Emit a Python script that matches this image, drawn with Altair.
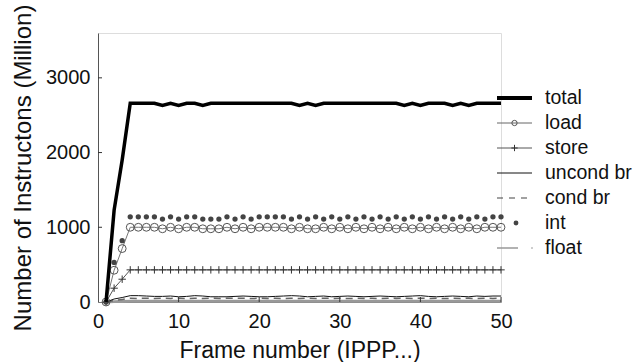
import altair as alt
import pandas as pd

# Instruction counts per frame, in millions
frames = list(range(1, 51))

total = [0, 1230, 1900, 2660, 2660, 2660, 2660, 2630, 2660, 2630,
         2660, 2660, 2630, 2660, 2660, 2660, 2660, 2660, 2660, 2660,
         2660, 2660, 2660, 2660, 2630, 2660, 2630, 2660, 2660, 2660,
         2660, 2660, 2660, 2660, 2660, 2660, 2660, 2630, 2660, 2630,
         2660, 2660, 2660, 2630, 2660, 2630, 2660, 2660, 2660, 2660]

load = [0, 425, 715, 1000, 1000, 1000, 1000, 980, 1000, 980,
        1000, 1000, 980, 980, 980, 1000, 980, 1000, 980, 1000,
        1000, 1000, 1000, 980, 1000, 980, 980, 1000, 980, 1000,
        980, 1000, 980, 1000, 980, 1000, 980, 1000, 980, 1000,
        980, 1000, 980, 1000, 980, 1000, 980, 1000, 1000, 1000]

store = [0, 185, 305, 430, 430, 430, 430, 430, 430, 430,
         430, 430, 430, 430, 430, 430, 430, 430, 430, 430,
         430, 430, 430, 430, 430, 430, 430, 430, 430, 430,
         430, 430, 430, 430, 430, 430, 430, 430, 430, 430,
         430, 430, 430, 430, 430, 430, 430, 430, 430, 430]

uncond_br = [0, 40, 60, 85, 85, 80, 75, 75, 80, 70,
             75, 85, 80, 70, 70, 70, 75, 80, 75, 70,
             70, 75, 80, 85, 80, 70, 75, 80, 70, 75,
             80, 75, 70, 75, 80, 75, 70, 75, 80, 85,
             75, 70, 75, 80, 75, 70, 80, 75, 80, 80]

cond_br = [0, 20, 35, 50, 48, 50, 46, 50, 48, 50,
           46, 50, 48, 50, 46, 50, 48, 50, 46, 50,
           48, 50, 46, 50, 48, 50, 46, 50, 48, 50,
           46, 50, 48, 50, 46, 50, 48, 50, 46, 50,
           48, 50, 46, 50, 48, 50, 46, 50, 48, 50]

int_ops = [0, 530, 820, 1140, 1140, 1140, 1140, 1110, 1140, 1110,
           1140, 1140, 1110, 1110, 1110, 1140, 1110, 1140, 1110, 1140,
           1140, 1140, 1140, 1110, 1140, 1110, 1140, 1110, 1140, 1110,
           1140, 1110, 1140, 1110, 1140, 1110, 1140, 1110, 1140, 1110,
           1140, 1110, 1140, 1110, 1140, 1110, 1140, 1110, 1140, 1140]

float_ops = [0, 5, 8, 10, 10, 10, 10, 10, 10, 10,
             10, 10, 10, 10, 10, 10, 10, 10, 10, 10,
             10, 10, 10, 10, 10, 10, 10, 10, 10, 10,
             10, 10, 10, 10, 10, 10, 10, 10, 10, 10,
             10, 10, 10, 10, 10, 10, 10, 10, 10, 10]

series_names = ["total", "load", "store", "uncond br", "cond br", "int", "float"]
series_values = [total, load, store, uncond_br, cond_br, int_ops, float_ops]

x_ticks = [0, 10, 20, 30, 40, 50]
y_ticks = [0, 1000, 2000, 3000]
inner_x_ticks = [10, 20, 30, 40, 50]
inner_y_ticks = [1000, 2000, 3000]

rows = []
for name, vals in zip(series_names, series_values):
    for f, v in zip(frames, vals):
        rows.append({"frame": f, "series": name, "value": v})
df = pd.DataFrame(rows)
legend_df = pd.DataFrame({"series": series_names})

W, H = 403, 269
FONT = "Liberation Sans"

x_scale = alt.Scale(domain=[0, 50], nice=False, zero=False)
y_scale = alt.Scale(domain=[0, 3600], nice=False)
leg_scale = alt.Scale(type="point", domain=series_names, range=[65, 215], padding=0)

x_axis = alt.Axis(
    values=x_ticks, format="d", title="Frame number (IPPP...)", grid=False,
    tickSize=0, labelPadding=9, labelFontSize=20, labelFont=FONT, labelColor="#111",
    labelFlush=False, labelOverlap=False,
    titleFontSize=23, titleFont=FONT, titleFontWeight="normal", titleColor="#111",
    titleY=55, titleBaseline="alphabetic", domainColor="#777", domainWidth=1,
)
y_axis = alt.Axis(
    values=y_ticks, format="d", title="Number of Instructons (Million)", grid=False,
    tickSize=0, labelPadding=8, labelFontSize=20, labelFont=FONT, labelColor="#111",
    labelFlush=False, labelOverlap=False,
    titleFontSize=24, titleFont=FONT, titleFontWeight="normal", titleColor="#111",
    titleX=-75, titleY=134.5, titleAngle=270, titleAlign="center", titleBaseline="middle",
    domainColor="#555", domainWidth=1,
)


def X(field):
    return alt.X(f"{field}:Q", scale=x_scale, axis=x_axis)


def Y(field):
    return alt.Y(f"{field}:Q", scale=y_scale, axis=y_axis)


def series(name):
    return alt.Chart(df).transform_filter(alt.datum.series == name)


plus_path = "M-1,0L1,0M0,-1L0,1"

main_layers = [
    series("float").mark_line(color="#999999", strokeWidth=3).encode(x=X("frame"), y=Y("value")),
    series("cond br").mark_line(color="#666666", strokeWidth=1.5, strokeDash=[7, 5]).encode(x=X("frame"), y=Y("value")),
    series("uncond br").mark_line(color="#111111", strokeWidth=1).encode(x=X("frame"), y=Y("value")),
    series("store").mark_line(color="#555555", strokeWidth=1).encode(x=X("frame"), y=Y("value")),
    series("store").mark_point(shape=plus_path, size=55, filled=False, stroke="#333333", strokeWidth=1, opacity=1).encode(x=X("frame"), y=Y("value")),
    series("load").mark_line(color="#777777", strokeWidth=1).encode(x=X("frame"), y=Y("value")),
    series("load").mark_point(shape="circle", size=62, filled=False, stroke="#555555", strokeWidth=1, opacity=1).encode(x=X("frame"), y=Y("value")),
    series("int").mark_point(shape="circle", size=28, filled=True, color="#444444", opacity=1).encode(x=X("frame"), y=Y("value")),
    series("total").mark_line(color="#000000", strokeWidth=3.5).encode(x=X("frame"), y=Y("value")),
    # inward tick marks
    alt.Chart(pd.DataFrame({"t": inner_x_ticks})).mark_rule(color="#333333", strokeWidth=1).encode(
        x=X("t"), y=alt.value(H), y2=alt.value(H - 5)),
    alt.Chart(pd.DataFrame({"t": inner_y_ticks})).mark_rule(color="#333333", strokeWidth=1).encode(
        y=Y("t"), x=alt.value(0), x2=alt.value(4)),
]


def legend_row(name):
    return alt.Chart(legend_df).transform_filter(alt.datum.series == name)


LY = alt.Y("series:N", scale=leg_scale, axis=None)
lx0, lx1, lxc = 399, 434, 416.5

legend_layers = [
    legend_row("total").mark_rule(color="#000000", strokeWidth=4).encode(x=alt.value(lx0), x2=alt.value(lx1), y=LY),
    legend_row("load").mark_rule(color="#666666", strokeWidth=1).encode(x=alt.value(lx0), x2=alt.value(lx1), y=LY),
    legend_row("load").mark_point(shape="circle", size=28, filled=False, stroke="#555555", strokeWidth=1, opacity=1).encode(x=alt.value(lxc), y=LY),
    legend_row("store").mark_rule(color="#555555", strokeWidth=1).encode(x=alt.value(lx0), x2=alt.value(lx1), y=LY),
    legend_row("store").mark_point(shape=plus_path, size=40, filled=False, stroke="#333333", strokeWidth=1, opacity=1).encode(x=alt.value(lxc), y=LY),
    legend_row("uncond br").mark_rule(color="#111111", strokeWidth=1).encode(x=alt.value(lx0), x2=alt.value(lx1), y=LY),
    legend_row("cond br").mark_rule(color="#444444", strokeWidth=1.2, strokeDash=[6, 6]).encode(x=alt.value(lx0), x2=alt.value(lx1), y=LY),
    legend_row("int").mark_point(shape="circle", size=24, filled=True, color="#444444", opacity=1).encode(x=alt.value(418), y=LY),
    legend_row("float").mark_rule(color="#999999", strokeWidth=1.5).encode(x=alt.value(lx0), x2=alt.value(420), y=LY),
    legend_row("float").mark_point(shape="circle", size=2, filled=True, color="#777777", opacity=1).encode(x=alt.value(lx1), y=LY),
    alt.Chart(legend_df).mark_text(align="left", baseline="middle", fontSize=19.5, font=FONT, color="#111111").encode(
        x=alt.value(447), y=LY, text="series:N"),
]

main = alt.layer(*main_layers)
legend = alt.layer(*legend_layers)

chart = (
    alt.layer(main, legend)
    .resolve_scale(y="independent")
    .properties(
        width=W, height=H,
        autosize=alt.AutoSizeParams(type="none"),
        padding={"left": 98, "top": 33, "right": 135, "bottom": 60},
        background="white",
    )
    .configure_view(stroke=None)
    .configure(font=FONT)
)

chart.save("out.html", embed_options={"renderer": "svg", "actions": False})
